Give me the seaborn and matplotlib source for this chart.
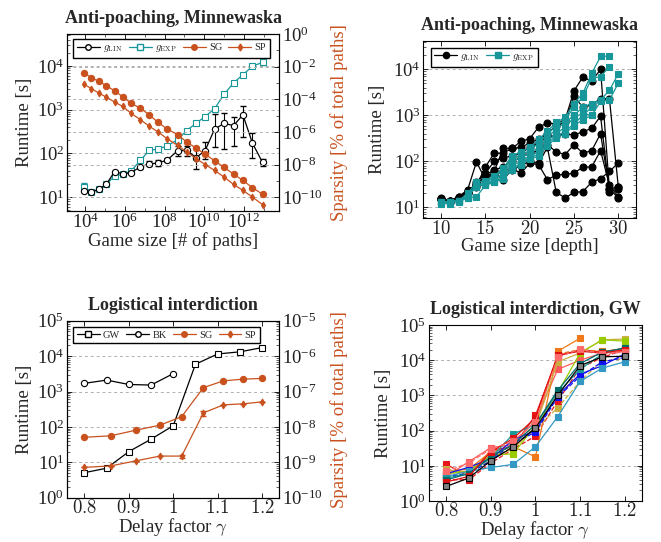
import numpy as np
import pandas as pd
import matplotlib
matplotlib.use('Agg')
import matplotlib.pyplot as plt
import matplotlib.ticker as mticker
from matplotlib.lines import Line2D
import seaborn as sns

sns.set_style('ticks')
plt.rcParams['font.family'] = ['Liberation Serif', 'DejaVu Serif']
plt.rcParams['mathtext.fontset'] = 'cm'
plt.rcParams['axes.linewidth'] = 0.8

TEAL = '#17979a'
ORANGE = '#c9511e'
GRID = '#b0b0b0'
NAN = np.nan

# ---------------- anti-poaching vs number of paths (top left)
game_size = [8.9e3, 2.0e4, 4.8e4, 1.15e5, 3.0e5, 7.8e5, 2.0e6, 6.0e6, 1.7e7, 4.7e7, 1.35e8,
             4.5e8, 1.3e9, 3.9e9, 1.1e10, 3.3e10, 1.0e11, 3.0e11, 8.9e11, 2.7e12, 8.7e12]
glin_time = [13.5, 12.8, 15, 19.5, 38, 34, 36, 49, 57, 60, 70,
             114, 116, 80, 115, 355, 485, 430, 760, 170, 62]
glin_lo = [13, 12.4, 14.5, 18.5, 36, 32, 33, 44, 50, 52, 62,
           85, 85, 44, 74, 138, 125, 148, 235, 80, 50]
glin_hi = [14, 13.2, 15.5, 20.5, 40, 36, 39, 55, 66, 70, 80,
           148, 150, 138, 178, 800, 830, 680, 1230, 290, 75]
gexp_time = [17, 12.9, 15, 19.5, 30, 33, 39, 69, 117, 125, 148,
             205, 331, 489, 693, 1046, 2240, 4070, 6300, 9800, 12100]
gexp_lo = [14, 12.5, 14.6, 19, 29, 32, 38, 67, 114, 122, 144,
           200, 322, 476, 675, 1020, 2180, 3960, 6130, 9540, 10500]
gexp_hi = [21, 13.3, 15.4, 20, 31, 34, 40, 71, 120, 128, 152,
           210, 340, 502, 711, 1072, 2300, 4180, 6470, 10060, 13500]
sg_sparsity = [4.0e-3, 2.1e-3, 1.25e-3, 6.8e-4, 3.3e-4, 1.4e-4, 5.8e-5, 2.8e-5, 1.1e-5, 3.8e-6, 1.5e-6,
               6.8e-7, 2.4e-7, 1.0e-7, 4.3e-8, 1.7e-8, 6.7e-9, 2.6e-9, 1.05e-9, 3.8e-10, 1.5e-10]
sp_sparsity = [8.1e-4, 4.5e-4, 2.4e-4, 1.35e-4, 6.8e-5, 3.6e-5, 1.4e-5, 5.6e-6, 2.2e-6, 9.8e-7, 3.8e-7,
               1.5e-7, 5.8e-8, 2.3e-8, 1.0e-8, 4.4e-9, 1.7e-9, 6.0e-10, 2.6e-10, 1.0e-10, 3.5e-11]

# ---------------- anti-poaching vs depth (top right)
depth = [10, 11, 12, 13, 14, 15, 16, 17, 18, 19, 20, 21, 22, 23, 24, 25, 26, 27, 28, 29, 30]
lin_a = [15, 14, 17, 24, 97, 40, 60, 190, 190, 270, 310, 550, 680, 650, 800, 3400, 6800, 5500, 10000, 25, 16]
lin_b = [15, 14, 16, 22, 30, 75, 150, 150, 190, 200, 250, 300, 400, 600, 700, 2600, 1500, 1700, 2300, 2300, 28]
lin_c = [15, 14, 16, 21, 35, 55, 100, 120, 130, 150, 200, 250, 350, 350, 400, 370, 440, 520, 960, 22, 25]
lin_d = [16, 13, 17, 23, 30, 50, 65, 75, 100, 120, 150, 170, 230, 160, 140, 230, 150, 170, 400, 25, 28]
lin_e = [15, 14, 16, 20, 28, 45, 50, 60, 70, 55, 90, 85, 40, 50, 52, 55, 75, 75, 170, 30, 17]
lin_f = [15, 13, 16, 20, 32, 48, 55, 40, 65, 80, 100, 90, 200, 21, 16, 21, 22, 35, 42, 60, 92]
exp_a = [13, 13, 14, 20, 35, 38, 48, 70, 130, 160, 200, 300, 450, 700, 900, 1800, 3000, 8200, 19000, 19500, NAN]
exp_b = [13, 13, 14, 18, 30, 35, 45, 65, 110, 140, 170, 250, 380, 600, 800, 1500, 2500, 6400, 6900, 11500, NAN]
exp_c = [12, 13, 13, 17, 32, 32, 40, 55, 100, 120, 150, 200, 330, 500, 700, 1000, 1500, 1800, 2150, 3500, 8000]
exp_d = [13, 12, 14, 16, 17, 30, 38, 50, 80, 100, 130, 160, 280, 400, 550, 900, 1100, 1000, 2000, 2150, 5000]
exp_e = [13, 13, 14, 17, 28, 32, 36, 45, 70, 90, 120, 140, 250, 350, 450, 650, 1000, 1500, 2100, NAN, NAN]
exp_f = [13, 13, 14, 16, 30, 30, 35, 42, 65, 85, 110, 130, 220, 320, 400, 600, 800, 1000, NAN, NAN, NAN]

# ---------------- logistical interdiction (bottom left)
delay = [0.8, 0.85, 0.9, 0.95, 1.0, 1.05, 1.1, 1.15, 1.2]
gw_time = [5.1, 6.8, 20, 45, 108, 5900, 11500, 13200, 17400]
bk_delay = [0.8, 0.85, 0.9, 0.95, 1.0]
bk_time = [1700, 2100, 1580, 1520, 3200]
sparse_delay = [0.8, 0.859, 0.916, 0.97, 1.019, 1.068, 1.113, 1.158, 1.2]
li_sg = [5.1e-9, 5.6e-9, 8.1e-9, 1.12e-8, 1.95e-8, 1.29e-7, 2.0e-7, 2.24e-7, 2.34e-7]
li_sp = [7.2e-10, 7.9e-10, 1.1e-9, 1.5e-9, 1.5e-9, 2.5e-8, 4.2e-8, 4.5e-8, 5.1e-8]
li_sp_err = [0, 0, 0, 0, 1.5e-10, 4e-9, 0, 0, 0]

# ---------------- logistical interdiction, GW instances (bottom right)
gw_r01 = [11, 5, 28, 35, 270, 13000, 20000, 17000, 22000]
gw_r02 = [4, 4, 12, 30, 70, 700, 6000, 12000, 20000]
gw_r03 = [5, 13, 33, 40, 200, 5500, 10000, 16000, 18000]
gw_r04 = [7, 8, 25, 35, 18, 18000, 42000, NAN, NAN]
gw_r05 = [6, 7, 20, 40, 150, 15000, 20000, 18000, 21000]
gw_r06 = [8, 6, 18, 30, 130, 9000, 16000, 38000, 40000]
gw_r07 = [5, 6, 15, 35, 110, 450, 2500, 9500, 11000]
gw_r08 = [6, 7, 20, 22, 140, 1200, 16000, 38000, 35000]
gw_r09 = [6, 9, 16, 55, 100, 1000, 4000, 7000, 15000]
gw_r10 = [5, 6, 14, 45, 90, 900, 3500, 9000, 12000]
gw_r11 = [5, 7, 9, 11, 35, 250, 2500, 6000, 9000]
gw_r12 = [4.5, 6, 17, 80, 150, 1200, 5500, 15000, 23000]
gw_r13 = [4, 6, 18, 40, 150, 1400, 8000, 17000, 22000]
gw_r14 = [3.5, 5, 25, 60, 230, 14000, 18000, 16000, 20000]
gw_r15 = [7, 12, 30, 50, 180, 12000, 21000, 15000, 17000]
gw_r16 = [2.6, 4.5, 14, 35, 120, 1000, 7000, 12500, 13000]


def style_axes(ax, right=True):
    ax.tick_params(which='both', direction='in', top=True, right=right,
                   colors='#222222', labelsize=13.5, pad=2)
    ax.tick_params(axis='x', which='both', pad=1)
    ax.tick_params(which='major', length=3.5, width=0.7)
    ax.tick_params(which='minor', length=2, width=0.5)
    for s in ax.spines.values():
        s.set_color('black')
        s.set_linewidth(0.8)


def log_y(ax):
    ax.yaxis.set_major_locator(mticker.LogLocator(base=10, numticks=30))
    ax.yaxis.set_minor_locator(mticker.LogLocator(base=10, subs=np.arange(2, 10), numticks=30))
    ax.yaxis.set_minor_formatter(mticker.NullFormatter())


def ygrid(ax):
    ax.yaxis.grid(True, which='major', linestyle=(0, (3, 3)), color=GRID, linewidth=0.7)


def line(ax, x, y, color, marker, ms=4.5, mfc=None, ls='-', lw=0.9, mec=None):
    sns.lineplot(x=x, y=y, ax=ax, color=color, marker=marker, markersize=ms,
                 markerfacecolor=mfc if mfc else color, markeredgecolor=mec if mec else color,
                 markeredgewidth=0.8, linestyle=ls, linewidth=lw, legend=False,
                 errorbar=None, sort=False)


lin_fmt = mticker.FuncFormatter(lambda v, p: f'${v:g}$')
leg_kw = dict(fontsize=7.5, frameon=True, fancybox=False, edgecolor='black', framealpha=1,
              handlelength=2.2, handletextpad=0.3, columnspacing=0.6, borderpad=0.35,
              borderaxespad=0, loc='upper left')
title_kw = dict(fontsize=13, fontweight='bold', pad=8)

fig = plt.figure(figsize=(6.61, 5.42), dpi=100)
ax_tl = fig.add_axes([0.1014, 0.6107, 0.3207, 0.3266])
ax_tr = fig.add_axes([0.6404, 0.5972, 0.3218, 0.3271])
ax_bl = fig.add_axes([0.1014, 0.0817, 0.3207, 0.3266])
ax_br = fig.add_axes([0.6490, 0.0756, 0.3222, 0.3247])

# ---- top left
ax = ax_tl
ax.set_xscale('log')
ax.set_yscale('log')
ax2 = ax.twinx()
ax2.set_yscale('log')
gl = np.array(glin_time)
ge = np.array(gexp_time)
ax.errorbar(game_size, gexp_time, yerr=[ge - np.array(gexp_lo), np.array(gexp_hi) - ge],
            fmt='none', ecolor=TEAL, elinewidth=0.8, capsize=2)
line(ax, game_size, gexp_time, TEAL, 's', ms=4.2, mfc='white')
ax.errorbar(game_size, glin_time, yerr=[gl - np.array(glin_lo), np.array(glin_hi) - gl],
            fmt='none', ecolor='black', elinewidth=0.8, capsize=2.2)
line(ax, game_size, glin_time, 'black', 'o', ms=4.5, mfc='white')
line(ax2, game_size, sg_sparsity, ORANGE, 'o', ms=4.5)
line(ax2, game_size, sp_sparsity, ORANGE, 'd', ms=3.5)
ax.set_xlim(10 ** 3.08, 10 ** 13.77)
ax.set_ylim(10 ** 0.68, 10 ** 4.73)
ax2.set_ylim(10 ** -10.85, 10 ** 0.0)
ax.xaxis.set_major_locator(mticker.FixedLocator([1e4, 1e6, 1e8, 1e10, 1e12]))
ax.xaxis.set_major_formatter(mticker.LogFormatterSciNotation())
ax.xaxis.set_minor_locator(mticker.FixedLocator([1e3 * 10 ** (2 * k) for k in range(6)]))
ax.xaxis.set_minor_formatter(mticker.NullFormatter())
log_y(ax)
ax2.yaxis.set_major_locator(mticker.FixedLocator([1e0, 1e-2, 1e-4, 1e-6, 1e-8, 1e-10]))
ax2.yaxis.set_major_formatter(mticker.LogFormatterSciNotation())
ax2.yaxis.set_minor_locator(mticker.FixedLocator([1e-1, 1e-3, 1e-5, 1e-7, 1e-9]))
ax2.yaxis.set_minor_formatter(mticker.NullFormatter())
style_axes(ax, right=False)
style_axes(ax2)
ygrid(ax)
ygrid(ax2)
ax.set_title('Anti-poaching, Minnewaska', **title_kw)
ax.set_xlabel('Game size [# of paths]', fontsize=13.5, labelpad=0)
ax.set_ylabel('Runtime [s]', fontsize=13.5, labelpad=3)
ax2.set_ylabel('Sparsity [% of total paths]', fontsize=13.5, color=ORANGE, labelpad=5)
h = [Line2D([], [], color='black', marker='o', mfc='white', ms=4, lw=0.9),
     Line2D([], [], color=TEAL, marker='s', mfc='white', ms=4, lw=0.9),
     Line2D([], [], color=ORANGE, marker='o', ms=4, lw=0.9),
     Line2D([], [], color=ORANGE, marker='d', ms=3.5, lw=0.9)]
ax2.legend(h, [r'$g_{\mathrm{LIN}}$', r'$g_{\mathrm{EXP}}$', 'SG', 'SP'], ncol=4,
           bbox_to_anchor=(0.03, 0.97), **leg_kw)

# ---- top right
ax = ax_tr
ax.set_yscale('log')
for run in [lin_a, lin_b, lin_c, lin_d, lin_e, lin_f]:
    line(ax, depth, run, 'black', 'o', ms=5)
for run in [exp_a, exp_b, exp_c, exp_d, exp_e, exp_f]:
    line(ax, depth, run, TEAL, 's', ms=5)
ax.set_xlim(8, 32)
ax.set_ylim(10 ** 0.76, 10 ** 4.615)
log_y(ax)
ax.xaxis.set_major_locator(mticker.FixedLocator([10, 15, 20, 25, 30]))
ax.xaxis.set_major_formatter(lin_fmt)
style_axes(ax)
ygrid(ax)
ax.set_title('Anti-poaching, Minnewaska', **title_kw)
ax.set_xlabel('Game size [depth]', fontsize=13.5, labelpad=0)
ax.set_ylabel('Runtime [s]', fontsize=13.5, labelpad=5)
h = [Line2D([], [], color='black', marker='o', ms=4.5, lw=0.9),
     Line2D([], [], color=TEAL, marker='s', ms=4.5, lw=0.9)]
ax.legend(h, [r'$g_{\mathrm{LIN}}$', r'$g_{\mathrm{EXP}}$'], ncol=2,
          bbox_to_anchor=(0.035, 0.96), **leg_kw)

# ---- bottom left
ax = ax_bl
ax.set_yscale('log')
ax2 = ax.twinx()
ax2.set_yscale('log')
line(ax, delay, gw_time, 'black', 's', ms=4.2, mfc='white')
line(ax, bk_delay, bk_time, 'black', 'o', ms=4.5, mfc='white')
line(ax2, sparse_delay, li_sg, ORANGE, 'o', ms=4.5)
ax2.errorbar(sparse_delay, li_sp, yerr=li_sp_err, fmt='none', ecolor=ORANGE,
             elinewidth=0.8, capsize=2)
line(ax2, sparse_delay, li_sp, ORANGE, 'd', ms=3.5)
ax.set_xlim(0.761, 1.238)
ax.set_ylim(1, 1e5)
ax2.set_ylim(1e-10, 1e-5)
log_y(ax)
log_y(ax2)
ax.xaxis.set_major_locator(mticker.FixedLocator([0.8, 0.9, 1.0, 1.1, 1.2]))
ax.xaxis.set_major_formatter(lin_fmt)
style_axes(ax, right=False)
style_axes(ax2)
ygrid(ax)
ax.set_title('Logistical interdiction', **title_kw)
ax.set_xlabel(r'Delay factor $\gamma$', fontsize=13.5, labelpad=-1)
ax.set_ylabel('Runtime [s]', fontsize=13.5, labelpad=3)
ax2.set_ylabel('Sparsity [% of total paths]', fontsize=13.5, color=ORANGE, labelpad=5)
h = [Line2D([], [], color='black', marker='s', mfc='white', ms=4, lw=0.9),
     Line2D([], [], color='black', marker='o', mfc='white', ms=4, lw=0.9),
     Line2D([], [], color=ORANGE, marker='o', ms=4, lw=0.9),
     Line2D([], [], color=ORANGE, marker='d', ms=3.5, lw=0.9)]
ax2.legend(h, ['GW', 'BK', 'SG', 'SP'], ncol=4, bbox_to_anchor=(0.03, 0.965), **leg_kw)

# ---- bottom right
ax = ax_br
ax.set_yscale('log')
gw_runs = [gw_r01, gw_r02, gw_r03, gw_r04, gw_r05, gw_r06, gw_r07, gw_r08,
           gw_r09, gw_r10, gw_r11, gw_r12, gw_r13, gw_r14, gw_r15, gw_r16]
run_colors = ['#e8141a', '#e8141a', '#ff5a5a', '#f07818', '#f07818', '#c8b040', '#c8b040',
              '#99cc00', '#1010ee', '#1010ee', '#3399c4', '#189a9c', '#006b6b',
              '#dd1010', '#ff6a6a', 'black']
run_styles = ['-', '--', '-', '-', '--', '-', '--', '-', '-', '--', '-', '-', '-', '-', '--', '-']
for run, c, ls in zip(gw_runs, run_colors, run_styles):
    mfc = '#808080' if c == 'black' else c
    line(ax, delay, run, c, 's', ms=5, ls=ls, lw=0.9, mfc=mfc, mec=c)
ax.set_xlim(0.761, 1.239)
ax.set_ylim(1, 1e5)
log_y(ax)
ax.xaxis.set_major_locator(mticker.FixedLocator([0.8, 0.9, 1.0, 1.1, 1.2]))
ax.xaxis.set_major_formatter(lin_fmt)
style_axes(ax)
ygrid(ax)
ax.set_title('Logistical interdiction, GW', **title_kw)
ax.set_xlabel(r'Delay factor $\gamma$', fontsize=13.5, labelpad=-1)
ax.set_ylabel('Runtime [s]', fontsize=13.5, labelpad=5)

fig.savefig('out.png', dpi=100)
